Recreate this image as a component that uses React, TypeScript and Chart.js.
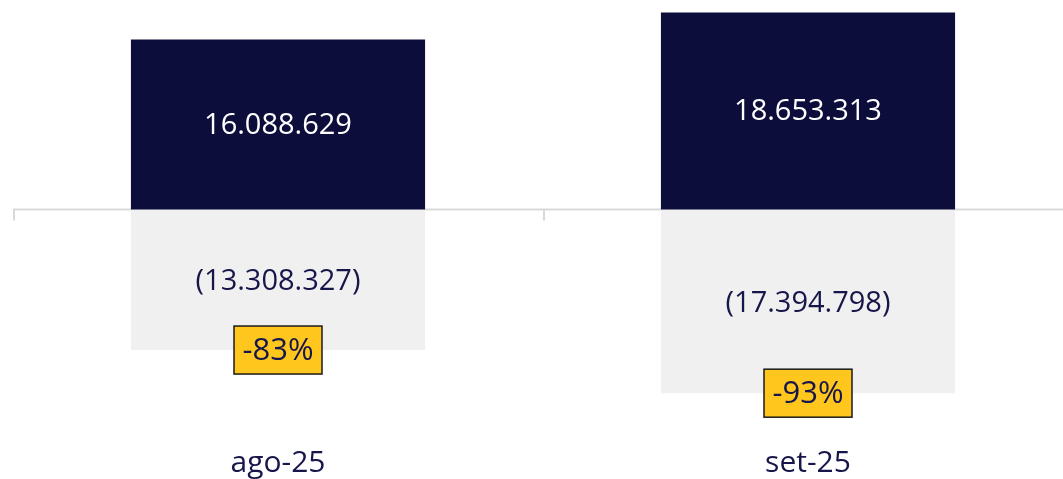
import React, { useEffect, useRef } from "react";
import { Chart, registerables } from "chart.js";
Chart.register(...registerables);

const categories = ["ago-25", "set-25"];
const positiveValues = [16088629, 18653313];
const negativeValues = [-13308327, -17394798];
const percentLabels = ["-83%", "-93%"];

const NAVY = "#0c0d3b";
const TEXT_NAVY = "#16164a";
const LIGHT = "#f0f0f0";
const FONT = "'Open Sans', sans-serif";

const fmt = (v: number) => {
  const s = Math.abs(v).toString().replace(/\B(?=(\d{3})+(?!\d))/g, ".");
  return v < 0 ? `(${s})` : s;
};

const overlay = {
  id: "overlay",
  beforeDatasetsDraw(chart: any) {
    const { ctx, chartArea, scales } = chart;
    const x = scales.x;
    const y = scales.y;
    const y0 = y.getPixelForValue(0);
    const half = (x.getPixelForValue(1) - x.getPixelForValue(0)) / 2;
    ctx.save();
    ctx.strokeStyle = "#d9d9d9";
    ctx.lineWidth = 2;
    ctx.beginPath();
    ctx.moveTo(chartArea.left, y0);
    ctx.lineTo(chartArea.right, y0);
    for (let i = 0; i <= categories.length; i++) {
      const px = x.getPixelForValue(0) - half + i * 2 * half + 1;
      ctx.moveTo(px, y0);
      ctx.lineTo(px, y0 + 11);
    }
    ctx.stroke();
    ctx.restore();
  },
  afterDatasetsDraw(chart: any) {
    const { ctx } = chart;
    ctx.save();
    ctx.textAlign = "center";
    ctx.textBaseline = "middle";
    ctx.font = `29px ${FONT}`;
    const posMeta = chart.getDatasetMeta(0);
    const negMeta = chart.getDatasetMeta(1);
    posMeta.data.forEach((bar: any, i: number) => {
      ctx.fillStyle = "#ffffff";
      ctx.fillText(fmt(positiveValues[i]), bar.x, (bar.y + bar.base) / 2 + 1);
    });
    negMeta.data.forEach((bar: any, i: number) => {
      ctx.fillStyle = TEXT_NAVY;
      ctx.fillText(fmt(negativeValues[i]), bar.x, (bar.y + bar.base) / 2 + 2);
    });
    negMeta.data.forEach((bar: any, i: number) => {
      const w = 88;
      const h = 48;
      const bx = bar.x - w / 2;
      const by = bar.y - h / 2;
      ctx.fillStyle = "#ffc61e";
      ctx.fillRect(bx, by, w, h);
      ctx.strokeStyle = "#1a1a1a";
      ctx.lineWidth = 1.5;
      ctx.strokeRect(bx, by, w, h);
      ctx.fillStyle = TEXT_NAVY;
      ctx.font = `31px ${FONT}`;
      ctx.fillText(percentLabels[i], bar.x, bar.y + 1);
    });
    ctx.restore();
  },
};

export default function App() {
  const ref = useRef<HTMLCanvasElement>(null);
  useEffect(() => {
    if (!ref.current) return;
    const chart = new Chart(ref.current, {
      type: "bar",
      data: {
        labels: categories,
        datasets: [
          {
            data: positiveValues,
            backgroundColor: NAVY,
            borderWidth: 0,
            categoryPercentage: 1,
            barPercentage: 0.555,
          },
          {
            data: negativeValues,
            backgroundColor: LIGHT,
            borderWidth: 0,
            categoryPercentage: 1,
            barPercentage: 0.555,
          },
        ],
      },
      options: {
        responsive: false,
        animation: false,
        layout: { padding: { left: 13, right: 7, top: 0, bottom: 0 } },
        plugins: { legend: { display: false }, tooltip: { enabled: false } },
        scales: {
          x: {
            stacked: true,
            grid: { display: false, drawTicks: false, tickLength: 0 },
            border: { display: false },
            ticks: {
              color: TEXT_NAVY,
              font: { size: 30, family: FONT, lineHeight: 1 },
              padding: 1,
            },
          },
          y: {
            stacked: true,
            display: false,
            min: -22490000,
            max: 19840000,
          },
        },
      },
      plugins: [overlay],
    });
    return () => chart.destroy();
  }, []);
  return (
    <div
      style={{
        position: "fixed",
        top: 0,
        left: 0,
        width: 1063,
        height: 479,
        overflow: "hidden",
        background: "#fff",
      }}
    >
      <canvas ref={ref} width={1080} height={479} style={{ display: "block" }} />
    </div>
  );
}
